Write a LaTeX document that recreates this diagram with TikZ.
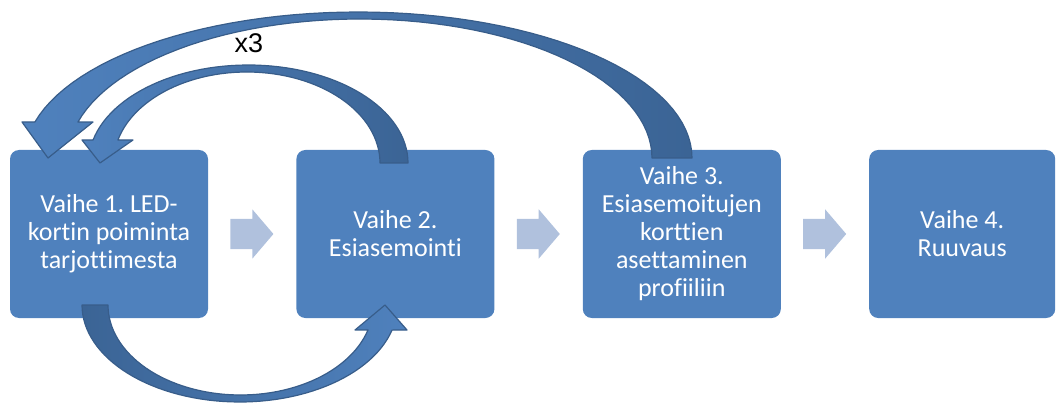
\documentclass[tikz,border=0pt]{standalone}
\usepackage{fontspec}
\setmainfont{Carlito}[Ligatures=NoCommon]
\newfontfamily\arialfont{Liberation Sans}
\usetikzlibrary{positioning,shapes.arrows}
\frenchspacing

\definecolor{boxblue}{HTML}{4F81BD}
\definecolor{chevblue}{HTML}{B0C1DD}
\definecolor{loopdark}{HTML}{3B6495}
\definecolor{looplight}{HTML}{4F81BD}
\definecolor{loopline}{HTML}{385D8A}

\tikzset{
  stage/.style={rectangle, rounded corners=9pt, fill=boxblue, text=white,
    minimum width=198pt, minimum height=168pt, align=center, inner sep=0pt,
    font=\fontsize{26}{28}\selectfont},
  chev/.style={single arrow, fill=chevblue, minimum height=43pt, minimum width=49pt,
    single arrow head extend=9.5pt, single arrow tip angle=99,
    inner xsep=0pt, inner ysep=15pt},
  loopL/.style={draw=loopline, line width=1.2pt, line join=round,
    left color=looplight, right color=loopdark},
  loopR/.style={draw=loopline, line width=1.2pt, line join=round,
    left color=loopdark, right color=looplight},
}

\begin{document}
\begin{tikzpicture}[x=1pt, y=-1pt, node distance=88pt]
    \useasboundingbox (0,0) rectangle (1057,403);

    \node[stage] (v1) at (109,234) {Vaihe 1. LED-\\kortin poiminta\\tarjottimesta};
    \node[stage, right=of v1] (v2) {Vaihe 2.\\Esiasemointi};
    \node[stage, right=of v2] (v3) {Vaihe 3.\\Esiasemoitujen\\korttien\\asettaminen\\profiiliin};
    \node[stage, right=of v3, minimum width=186pt] (v4) {Vaihe 4.\\Ruuvaus};

    \node[chev, right=22pt of v1] (c12) {};
    \node[chev, right=22pt of v2] (c23) {};
    \node[chev, right=22pt of v3] (c34) {};

    \node[font=\arialfont\fontsize{27}{30}\selectfont] (rep) at (249,43) {x3};

    % back from step 3 to step 1
    \path[loopL] plot[domain=0:-165.7, samples=60] ({358.3+333.7*cos(\x)},{158+146*sin(\x)})
        -- (22,122) -- (48,158) -- (93,122)
        -- plot[domain=-165:0, samples=60] ({360+292*cos(\x)},{158+139*sin(\x)}) -- cycle;
    % back from step 2 to step 1
    \path[loopL] plot[domain=0:-166.4, samples=60] ({248.3+159.7*cos(\x)},{163+98*sin(\x)})
        -- (82,140) -- (100,163) -- (133,140)
        -- plot[domain=-165.35:0, samples=60] ({246.8+133.2*cos(\x)},{163+91*sin(\x)}) -- cycle;
    % step 1 to step 2
    \path[loopR] plot[domain=180:15, samples=60] ({239.7+157.7*cos(\x)},{305+97*sin(\x)})
        -- (407,330) -- (385,305) -- (355,330)
        -- plot[domain=16.1:180, samples=60] ({240.6+132.6*cos(\x)},{305+90*sin(\x)}) -- cycle;
\end{tikzpicture}
\end{document}
